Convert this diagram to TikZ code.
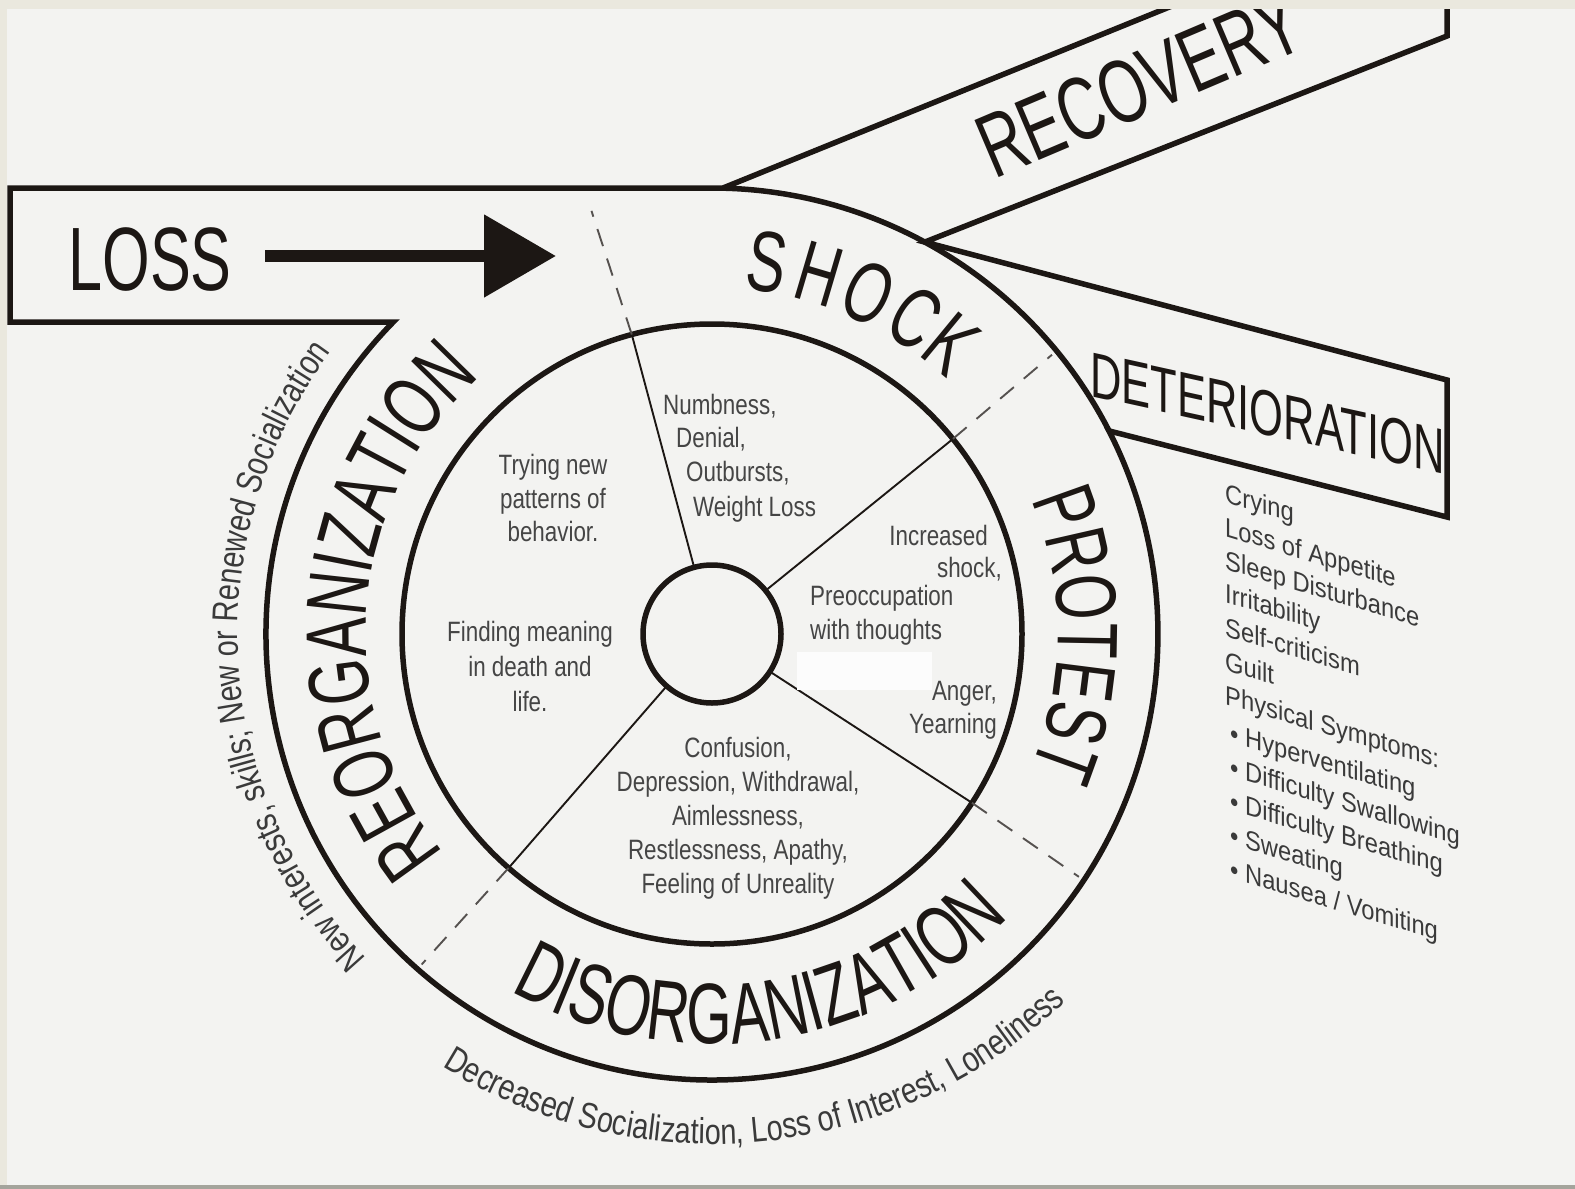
\documentclass[tikz,border=0pt]{standalone}
\usepackage{fontspec}
\setmainfont{Liberation Sans}
\newfontfamily\bigf[FakeStretch=0.68]{Liberation Sans}
\newfontfamily\midf[FakeStretch=0.8]{Liberation Sans}
\newfontfamily\listf[FakeStretch=0.88]{Liberation Sans}
\usetikzlibrary{arrows.meta,decorations.text}
\definecolor{bgmain}{HTML}{F3F3F1}
\definecolor{stripc}{HTML}{EAE8DE}
\definecolor{botc}{HTML}{A4A49C}
\definecolor{ink}{HTML}{1C1714}
\definecolor{gtext}{HTML}{454545}
\definecolor{ltext}{HTML}{3A3A3A}
\definecolor{patch}{HTML}{FCFCFC}
\newcommand{\ringfont}{\bigf\fontsize{86pt}{86pt}\selectfont}
\newcommand{\annfont}{\midf\fontsize{36pt}{36pt}\selectfont}
\begin{document}
\begin{tikzpicture}[x=1pt,y=1pt,
  heavy/.style={draw=ink, line width=5.5pt},
  spoke/.style={draw=ink, line width=1.9pt},
  ringdash/.style={draw=ink!75, line width=1.9pt, dash pattern=on 18pt off 13pt},
  ringcirc/.style={circle, draw=ink, line width=5.5pt, inner sep=0pt, outer sep=0pt},
  itxt/.style={font=\midf\fontsize{28pt}{28pt}\selectfont, text=gtext, inner sep=0pt},
  ltxt/.style={font=\listf\fontsize{27pt}{27pt}\selectfont, text=ltext, inner sep=0pt, anchor=base west, yslant=-0.3},
  btxt/.style={text=ink, inner sep=0pt},
]
\fill[bgmain] (0,0) rectangle (1575,-1189);
\useasboundingbox (0,0) rectangle (1575,-1189);
\coordinate (ctr) at (712,-634);

% outer band outline: recovery, loss, ring, deterioration
\coordinate (jrec) at ([shift={(61.5:446)}]ctr);
\coordinate (jdet) at ([shift={(27.1:446)}]ctr);
\draw[heavy, line join=miter] (1199,5) -- (723,-188) -- (10,-188) -- (10,-322) -- (393.3,-322)
  arc[start angle=135.6, end angle=387.1, radius=446] -- (1447,-517) -- (1447,-380) -- (jrec)
  -- (1447,-36) -- (1447,5);
\draw[heavy] (jdet) arc[start angle=27.1, end angle=88.6, radius=446];

% circles
\node[ringcirc, minimum size=620pt] (inner) at (ctr) {};
\node[ringcirc, minimum size=138pt] (hub) at (ctr) {};

% spokes and dashed separators
\foreach \a/\n in {105.9/1, 39.4/2, -33.5/3, -131.3/4}{
  \coordinate (d\n) at ([shift={(\a:440)}]ctr);
  \draw[spoke] (hub.\a) -- (inner.\a);
  \draw[ringdash] (inner.\a) -- (d\n);
}

% LOSS and arrow
\node[btxt, font=\bigf\fontsize{90pt}{90pt}\selectfont, anchor=base] (loss) at (150,-290) {LOSS};
\coordinate (arrstart) at (265,-256);
\coordinate (arrtip) at (556,-256);
\draw[ink, line width=12pt, -{Triangle[length=72pt,width=80pt]}] (arrstart) -- (arrtip);

% band labels
\node[btxt, font=\bigf\fontsize{90pt}{90pt}\selectfont, anchor=base west, rotate=23] (recov) at (994,-180) {RECOVERY};
\node[btxt, font=\bigf\fontsize{64pt}{64pt}\selectfont, anchor=base west, yslant=-0.22] (deter) at (1090,-396) {DETERIORATION};

% ring labels
\foreach \ch/\ang [count=\k] in {S/81.5,H/73.5,O/65.3,C/57.3,K/50.5}
  \node[btxt, font=\ringfont, anchor=base, rotate=\ang-90] (shock\k) at ([shift={(\ang:346)}]ctr) {\ch};
\path[decorate, decoration={text along path, text={|\ringfont\color{ink}|PROTEST}, text align=center}]
  ([shift={(40:346)}]ctr) arc[start angle=40, end angle=-40, radius=346];
\path[decorate, decoration={text along path, text={|\ringfont\color{ink}|DISORGANIZATION}, text align=center}]
  ([shift={(213.5:410)}]ctr) arc[start angle=213.5, end angle=343.5, radius=410];
\path[decorate, decoration={text along path, text={|\ringfont\color{ink}|REORGANIZATION}, text align=center}]
  ([shift={(235.6:346)}]ctr) arc[start angle=235.6, end angle=115.6, radius=346];

% outside annotations
\path[decorate, decoration={text along path, text={|\annfont\color{ltext}|Decreased Socialization, Loss of Interest, Loneliness}, text align=center}]
  ([shift={(206:510)}]ctr) arc[start angle=206, end angle=346, radius=510];
\path[decorate, decoration={text along path, text={|\annfont\color{ltext}|New interests, skills; New or Renewed Socialization}, text align=center}]
  ([shift={(253.3:474)}]ctr) arc[start angle=253.3, end angle=113.3, radius=474];

% inner texts
\node[itxt, anchor=base west] (n1) at (663,-414) {Numbness,};
\node[itxt, anchor=base west] (n2) at (676,-447) {Denial,};
\node[itxt, anchor=base west] (n3) at (686,-481) {Outbursts,};
\node[itxt, anchor=base west] (n4) at (693,-516) {Weight Loss};
\node[itxt, anchor=base] (t1) at (553,-474) {Trying new};
\node[itxt, anchor=base] (t2) at (553,-508) {patterns of};
\node[itxt, anchor=base] (t3) at (553,-541) {behavior.};
\node[itxt, anchor=base] (f1) at (530,-641) {Finding meaning};
\node[itxt, anchor=base] (f2) at (530,-676) {in death and};
\node[itxt, anchor=base] (f3) at (530,-711) {life.};
\node[itxt, anchor=base east] (i1) at (988,-545) {Increased};
\node[itxt, anchor=base east] (i2) at (1002,-577) {shock,};
\node[itxt, anchor=base west] (p1) at (810,-605) {Preoccupation};
\node[itxt, anchor=base west] (p2) at (810,-639) {with thoughts};
\fill[patch] (797,-652) rectangle (932,-690);
\node[itxt, anchor=base east] (a1) at (997,-700) {Anger,};
\node[itxt, anchor=base east] (a2) at (997,-733) {Yearning};
\node[itxt, anchor=base] (c1) at (738,-757) {Confusion,};
\node[itxt, anchor=base] (c2) at (738,-791) {Depression, Withdrawal,};
\node[itxt, anchor=base] (c3) at (738,-825) {Aimlessness,};
\node[itxt, anchor=base] (c4) at (738,-859) {Restlessness, Apathy,};
\node[itxt, anchor=base] (c5) at (738,-893) {Feeling of Unreality};

% deterioration list
\node[ltxt] (l1) at (1225,-502) {Crying};
\node[ltxt] (l2) at (1225,-536) {Loss of Appetite};
\node[ltxt] (l3) at (1225,-569) {Sleep Disturbance};
\node[ltxt] (l4) at (1225,-602) {Irritability};
\node[ltxt] (l5) at (1225,-636) {Self-criticism};
\node[ltxt] (l6) at (1225,-670) {Guilt};
\node[ltxt] (l7) at (1225,-704) {Physical Symptoms:};
\node[ltxt] (l8) at (1230,-742) {\textbullet\ Hyperventilating};
\node[ltxt] (l9) at (1230,-776) {\textbullet\ Difficulty Swallowing};
\node[ltxt] (l10) at (1230,-810) {\textbullet\ Difficulty Breathing};
\node[ltxt] (l11) at (1230,-844) {\textbullet\ Sweating};
\node[ltxt] (l12) at (1230,-878) {\textbullet\ Nausea / Vomiting};

% photo border strips
\fill[stripc] (0,0) rectangle (1575,-9);
\fill[stripc] (0,0) rectangle (7,-1189);
\fill[botc] (0,-1185) rectangle (1575,-1189);
\end{tikzpicture}
\end{document}
